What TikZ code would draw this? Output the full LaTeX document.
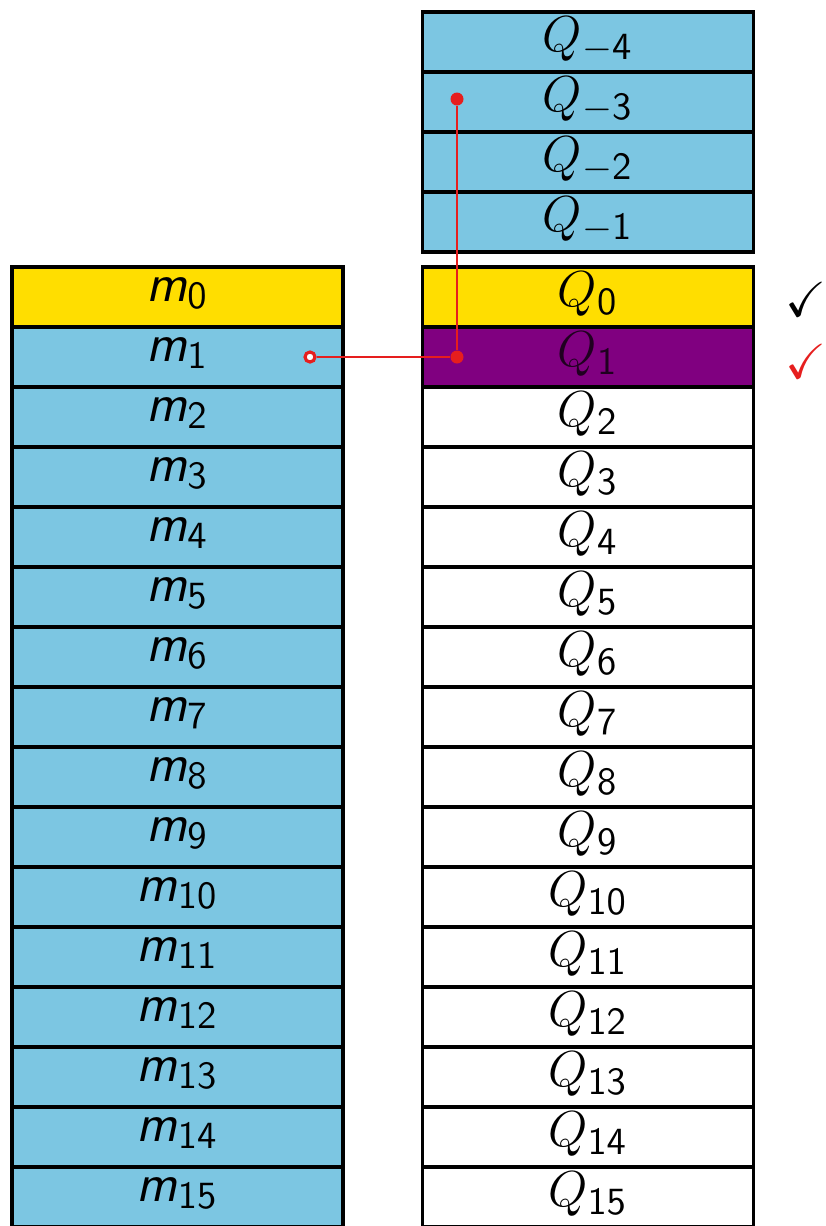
\documentclass[tikz,border=0pt]{standalone}
\usepackage{amssymb}
\definecolor{cellblue}{RGB}{124,198,226}
\definecolor{cellyellow}{RGB}{255,222,0}
\definecolor{cellpurple}{RGB}{128,0,128}
\definecolor{linkred}{RGB}{230,30,30}
\begin{document}
\begin{tikzpicture}[
        cell/.style={rectangle, draw, line width=1.1pt, minimum width=33.1mm, minimum height=6mm, inner sep=0pt, text depth=4.5pt, align=center, font=\fontsize{15}{16}\selectfont},
        ring/.style={circle, draw=linkred, line width=0.9pt, fill=white, minimum size=1mm, inner sep=0pt},
        dot/.style={circle, fill=linkred, minimum size=1.3mm, inner sep=0pt},
        link/.style={draw=linkred, line width=0.8pt},
        tick/.style={anchor=west, inner sep=0pt, font=\fontsize{14}{15}\selectfont}
    ]
        \fill[white] (0,0) rectangle (8.25,-12.26);
        \clip (0,0) rectangle (8.25,-12.26);
        % left column
        \foreach \i in {0,...,15} {
            \node[cell, fill=cellblue] (m\i) at (1.775, -2.97-0.6*\i)
                {$\textsf{\textit{m}}_{\mathsf{\i}}$};
        }
        \node[cell, fill=cellyellow] (m0) at (1.775, -2.97) {$\textsf{\textit{m}}_{\mathsf{0}}$};
        % right column
        \foreach \j in {1,...,4} {
            \node[cell, fill=cellblue] (qn\j) at (5.88, -2.22+0.6*\j-0.6)
                {$Q_{-\mathsf{\j}}$};
        }
        \foreach \i in {2,...,15} {
            \node[cell, fill=white] (q\i) at (5.88, -2.97-0.6*\i)
                {$Q_{\mathsf{\i}}$};
        }
        \node[cell, fill=cellyellow] (q0) at (5.88, -2.97) {$Q_{\mathsf{0}}$};
        \node[cell, fill=cellpurple, text=black!75!cellpurple] (q1) at (5.88, -3.57) {$Q_{\mathsf{1}}$};
        % link
        \node[ring] (src) at (3.10, -3.57) {};
        \node[dot] (bend) at (4.57, -3.57) {};
        \node[dot] (dst) at (4.57, -0.99) {};
        \draw[link] (src) -- (bend) -- (dst);
        % checks
        \node[tick] (ok0) at (7.85, -2.99) {$\checkmark$};
        \node[tick, text=linkred] (ok1) at (7.85, -3.61) {$\checkmark$};
\end{tikzpicture}
\end{document}
